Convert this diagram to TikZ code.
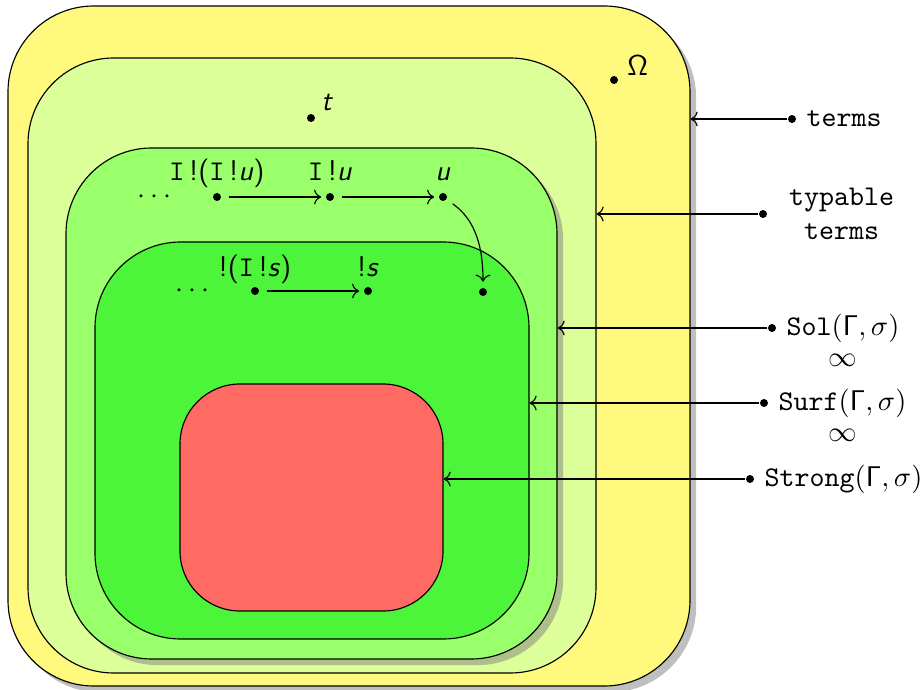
\documentclass[tikz,border=0pt]{standalone}
\usepackage{amsmath, amssymb}
\usepackage{tikz}
\usetikzlibrary{arrows.meta, shadows, fit, positioning}
\definecolor{giallo}{RGB}{255,250,125}
\definecolor{verdino}{RGB}{221,255,153}
\definecolor{verde}{RGB}{153,255,107}
\definecolor{verdone}{RGB}{76,245,58}
\definecolor{rosso}{RGB}{255,107,99}

\begin{document}
\begin{tikzpicture}[x=0.35pt, y=-0.35pt, font=\sffamily,
    insieme/.style={draw, thin, inner sep=0pt, rounded corners=30pt},
    punto/.style={circle, fill, inner sep=0pt, minimum size=2.8pt},
    etichetta/.style={text height=7.5pt, text depth=2.5pt}]
    \useasboundingbox (0,0) rectangle (923,690);
    % Insiemi
    \node[insieme, fill=giallo, drop shadow, fit={(8,6) (690,686)}] (omega) {};
    \node[insieme, fill=verdino, fit={(28,58) (596,673)}] (typable) {};
    \node[insieme, fill=verde, drop shadow, fit={(66,148) (557,659)}] (sol) {};
    \node[insieme, fill=verdone, fit={(95,242) (529,639)}] (surf) {};
    \node[insieme, fill=rosso, rounded corners=21pt, fit={(180,384) (443,611)}] (strong) {};

    % Termini
    \node[punto] (omegadot) at (614,80) {};
    \node[above right=-3pt and 0pt of omegadot] (omegalbl) {$\mathsf{\Omega}$};
    \node[punto] (tdot) at (311,118) {};
    \node[above right=-2pt and -1pt of tdot] (tlbl) {\textit{t}};

    % Riduzioni
    \node (dotsA) at (157,197) {$\cdots$};
    \node[punto, label={[etichetta, label distance=-2pt]above:\texttt{I}\,!(\texttt{I}\,!\textit{u})}] (iiu) at (217,197) {};
    \node[punto, label={[etichetta, label distance=-2pt]above:\texttt{I}\,!\textit{u}}] (iu) at (330,197) {};
    \node[punto, label={[etichetta, label distance=-2pt]above:\textit{u}}] (u) at (443,197) {};
    \node (dotsB) at (195,291) {$\cdots$};
    \node[punto, label={[etichetta, label distance=-2.5pt]above:!(\texttt{I}\,!\textit{s})}] (is) at (255,291) {};
    \node[punto, label={[etichetta, label distance=-2.5pt]above:!\textit{s}}] (s) at (368,291) {};
    \node[punto] (w) at (483,292) {};
    \draw[->, shorten <=2.5pt, shorten >=1.5pt] (iiu) -- (iu);
    \draw[->, shorten <=2.5pt, shorten >=1.5pt] (iu) -- (u);
    \draw[->, shorten <=2.5pt, shorten >=1.5pt] (is) -- (s);
    \draw[->, shorten <=2.5pt, shorten >=2pt] (u) to[out=-35, in=90] (w);

    % Legenda
    \node[punto] (termsdot) at (792,119) {};
    \node[right=0pt of termsdot, font=\ttfamily] (termslbl) {terms};
    \draw[->] (termsdot) -- (termsdot -| omega.east);

    \node[punto] (typdot) at (763,214) {};
    \node[right=4pt of typdot, align=center, font=\ttfamily] (typlbl) {typable\\terms};
    \draw[->] (typdot) -- (typdot -| typable.east);

    \node[punto] (soldot) at (772,328) {};
    \node[right=0pt of soldot] (sollbl) {\texttt{Sol}$(\mathsf{\Gamma},\sigma)$};
    \node[below=0.3pt of sollbl, inner sep=0pt] (solinf) {$\infty$};
    \draw[->] (soldot) -- (soldot -| sol.east);

    \node[punto] (surfdot) at (764,403) {};
    \node[right=0pt of surfdot] (surflbl) {\texttt{Surf}$(\mathsf{\Gamma},\sigma)$};
    \node[below=0.3pt of surflbl, inner sep=0pt] (surfinf) {$\infty$};
    \draw[->] (surfdot) -- (surfdot -| surf.east);

    \node[punto] (strongdot) at (750,479) {};
    \node[right=0pt of strongdot] (stronglbl) {\texttt{Strong}$(\mathsf{\Gamma},\sigma)$};
    \draw[->] (strongdot) -- (strongdot -| strong.east);
\end{tikzpicture}
\end{document}
